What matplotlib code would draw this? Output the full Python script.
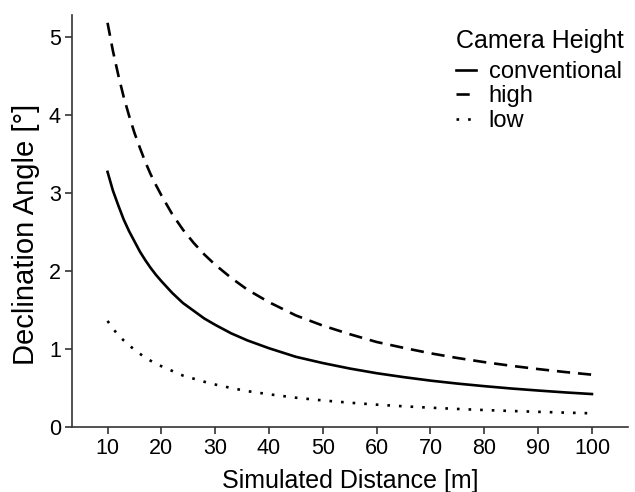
import matplotlib
matplotlib.use("Agg")
import matplotlib.pyplot as plt

plt.rcParams['font.family'] = ['Liberation Sans', 'DejaVu Sans']

# Simulated distance [m]
distance = [10, 11, 12, 13, 14, 15, 16, 17, 18, 19, 20, 22, 24, 26, 28, 30,
            33, 36, 40, 45, 50, 55, 60, 65, 70, 75, 80, 85, 90, 95, 100]

# Declination angle [deg] per camera height
conventional = [3.27, 3.03, 2.84, 2.66, 2.51, 2.38, 2.25, 2.14, 2.04, 1.95,
                1.87, 1.72, 1.59, 1.49, 1.39, 1.31, 1.20, 1.11, 1.01, 0.90,
                0.82, 0.75, 0.69, 0.64, 0.595, 0.557, 0.524, 0.494, 0.468,
                0.444, 0.423]
high = [5.18, 4.82, 4.51, 4.23, 3.99, 3.77, 3.58, 3.40, 3.24, 3.10,
        2.97, 2.73, 2.53, 2.36, 2.21, 2.08, 1.91, 1.76, 1.60, 1.43,
        1.30, 1.19, 1.09, 1.015, 0.945, 0.885, 0.832, 0.785, 0.743,
        0.705, 0.671]
low = [1.36, 1.26, 1.18, 1.11, 1.05, 0.99, 0.94, 0.89, 0.85, 0.81,
       0.78, 0.72, 0.66, 0.62, 0.58, 0.545, 0.50, 0.46, 0.42, 0.376,
       0.341, 0.312, 0.287, 0.266, 0.248, 0.232, 0.218, 0.206, 0.195,
       0.185, 0.176]

x_ticks = [10, 20, 30, 40, 50, 60, 70, 80, 90, 100]
y_ticks = [0, 1, 2, 3, 4, 5]

fig = plt.figure(figsize=(6.35, 4.92), dpi=100)
ax = fig.add_axes([0.1134, 0.132, 0.8756, 0.8375])

lw = 1.9
ax.plot(distance, conventional, color='black', lw=lw, label='conventional')
ax.plot(distance, high, color='black', lw=lw, dashes=(5.0, 3.0), label='high')
ax.plot(distance, low, color='black', lw=lw, dashes=(1.0, 3.4),
        dash_capstyle='butt', label='low')

ax.set_xlim(3.4, 106.7)
ax.set_ylim(0, 5.28)
ax.set_xticks(x_ticks)
ax.set_yticks(y_ticks)

for side in ['top', 'right']:
    ax.spines[side].set_visible(False)
for side in ['left', 'bottom']:
    ax.spines[side].set_linewidth(1.2)
    ax.spines[side].set_color('#333333')

ax.tick_params(axis='both', length=5, width=1.2, color='#333333',
               labelsize=15.5, labelcolor='black', pad=3)

ax.set_xlabel('Simulated Distance [m]', fontsize=18, labelpad=7)
ax.set_ylabel('Declination Angle [°]', fontsize=21)
ax.yaxis.set_label_coords(-0.058, 0.468)

leg = ax.legend(loc='upper right', bbox_to_anchor=(1.0, 0.978), frameon=False,
                title='Camera Height', title_fontsize=18, fontsize=17,
                handlelength=0.85, handletextpad=0.55, labelspacing=0.1,
                alignment='left', borderaxespad=0.0, borderpad=0.2)
# a bit more room between the legend title and the keys
leg._legend_box.sep = 6

fig.savefig('out.png', dpi=100)
